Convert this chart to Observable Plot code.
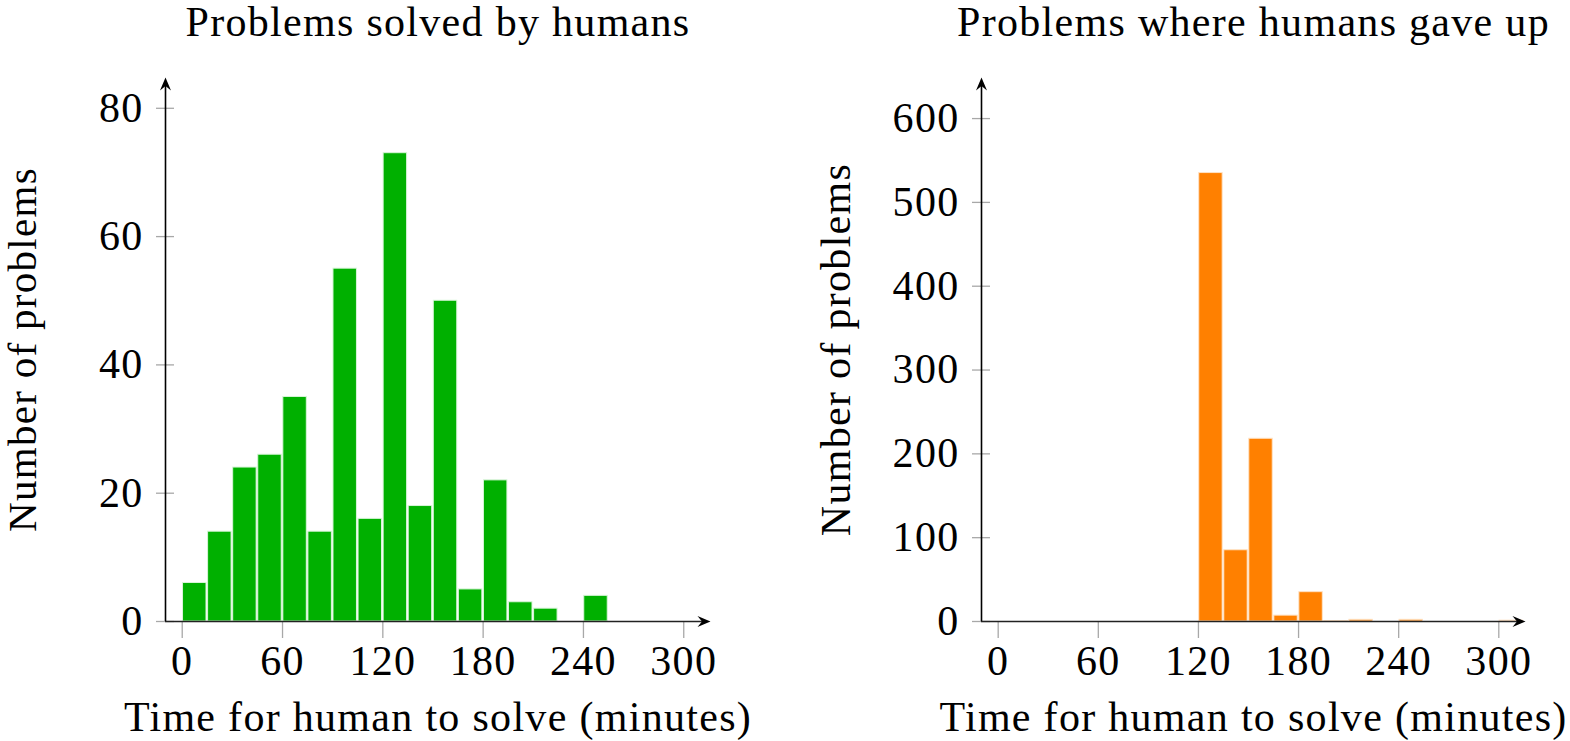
<!DOCTYPE html>
<html><head><meta charset="utf-8">
<script src="https://cdn.jsdelivr.net/npm/d3@7"></script>
<script src="https://cdn.jsdelivr.net/npm/@observablehq/plot@0.6"></script>
<style>
body{margin:0;background:#fff;}
#wrap{display:flex;width:1570px;height:741px;overflow:hidden;}
svg{overflow:visible;}
</style></head><body><div id="wrap"></div>
<script>
// ---- data ----
const binStarts = [0,15,30,45,60,75,90,105,120,135,150,165,180,195,210,225,240,255,270,285,300];
const binWidth = 15;
const solvedCounts = [6,14,24,26,35,14,55,16,73,18,50,5,22,3,2,0,4,0,0,0,0];
const gaveUpCounts = [0,0,0,0,0,0,0,0,535,85,218,7,35,0.6,2,0,2,0,0,0,1];
const xTicks = [0,60,120,180,240,300];
const solvedYTicks = [0,20,40,60,80];
const gaveUpYTicks = [0,100,200,300,400,500,600];
const titles = ["Problems solved by humans","Problems where humans gave up"];
const xLabel = "Time for human to solve (minutes)";
const yLabel = "Number of problems";

const FONT = "'Liberation Serif', serif";
const FS = 42;

// stealth arrow head symbol, tip at origin, pointing right
const stealth = {draw(ctx){ctx.moveTo(0,0);ctx.lineTo(-13,-5.5);ctx.lineTo(-8.5,0);ctx.lineTo(-13,5.5);ctx.closePath();}};
const blank = () => "";

function panel({title, counts, color, edge, yTicks, yMax, width, marginLeft, marginRight, labelDx, labelSize}) {
  const data = binStarts.map((s,i)=>({start:s,end:s+binWidth,count:counts[i]}));
  const xMin = -10, xMax = 316;
  return Plot.plot({
    width, height: 741,
    marginLeft, marginRight, marginTop: 77, marginBottom: 120,
    style: {fontFamily: FONT, fontSize: FS+"px", color: "#000", background: "#fff", letterSpacing: "1.3px", overflow: "visible"},
    x: {domain: [xMin, xMax], axis: null},
    y: {domain: [0, yMax], axis: null},
    marks: [
      Plot.rectY(data, {x1:"start", x2:"end", y:"count", fill: color, stroke: edge, strokeWidth: 1, insetLeft: 0.8, insetRight: 0.8}),
      Plot.axisX(xTicks, {tickSize: 17, tickFormat: blank, fill: "none", stroke: "#a8a8a8", strokeWidth: 1.3, label: null}),
      Plot.axisX(xTicks, {tickSize: 0, tickPadding: 24, fontSize: FS, fill: "#000", label: null}),
      Plot.axisY(yTicks, {tickSize: 18, dx: 9, tickFormat: blank, fill: "none", stroke: "#a8a8a8", strokeWidth: 1.3, label: null}),
      Plot.axisY(yTicks, {tickSize: 0, tickPadding: 22, fontSize: FS, fill: "#000", label: null}),
      Plot.ruleY([0], {x1: xMin, x2: xMax - 3, stroke: "#222", strokeWidth: 1.4}),
      Plot.ruleX([xMin], {y1: 0, y2: yMax * 0.99, stroke: "#000", strokeWidth: 1.6}),
      Plot.dot([0], {x: xMax, y: 0, symbol: stealth, fill: "#000", stroke: null, r: 6}),
      Plot.dot([0], {x: xMin, y: yMax, symbol: stealth, fill: "#000", stroke: null, r: 6, rotate: -90}),
      Plot.text([title], {frameAnchor: "top", dy: -55, fontSize: FS, lineAnchor: "middle"}),
      Plot.text([xLabel], {frameAnchor: "bottom", dy: 96, fontSize: FS, lineAnchor: "middle"}),
      Plot.text([yLabel], {frameAnchor: "left", dx: labelDx, rotate: -90, textAnchor: "middle", fontSize: labelSize, lineAnchor: "middle"})
    ]
  });
}

const wrap = document.getElementById("wrap");
wrap.append(panel({title: titles[0], counts: solvedCounts, color: "#00b000", edge: "#d8f5d8", yTicks: solvedYTicks, yMax: 84.8, width: 786, marginLeft: 165, marginRight: 76, labelDx: -143, labelSize: 41}));
wrap.append(panel({title: titles[1], counts: gaveUpCounts, color: "#ff8000", edge: "#ffe2c4", yTicks: gaveUpYTicks, yMax: 649, width: 784, marginLeft: 195, marginRight: 45, labelDx: -145, labelSize: FS}));
</script></body></html>
